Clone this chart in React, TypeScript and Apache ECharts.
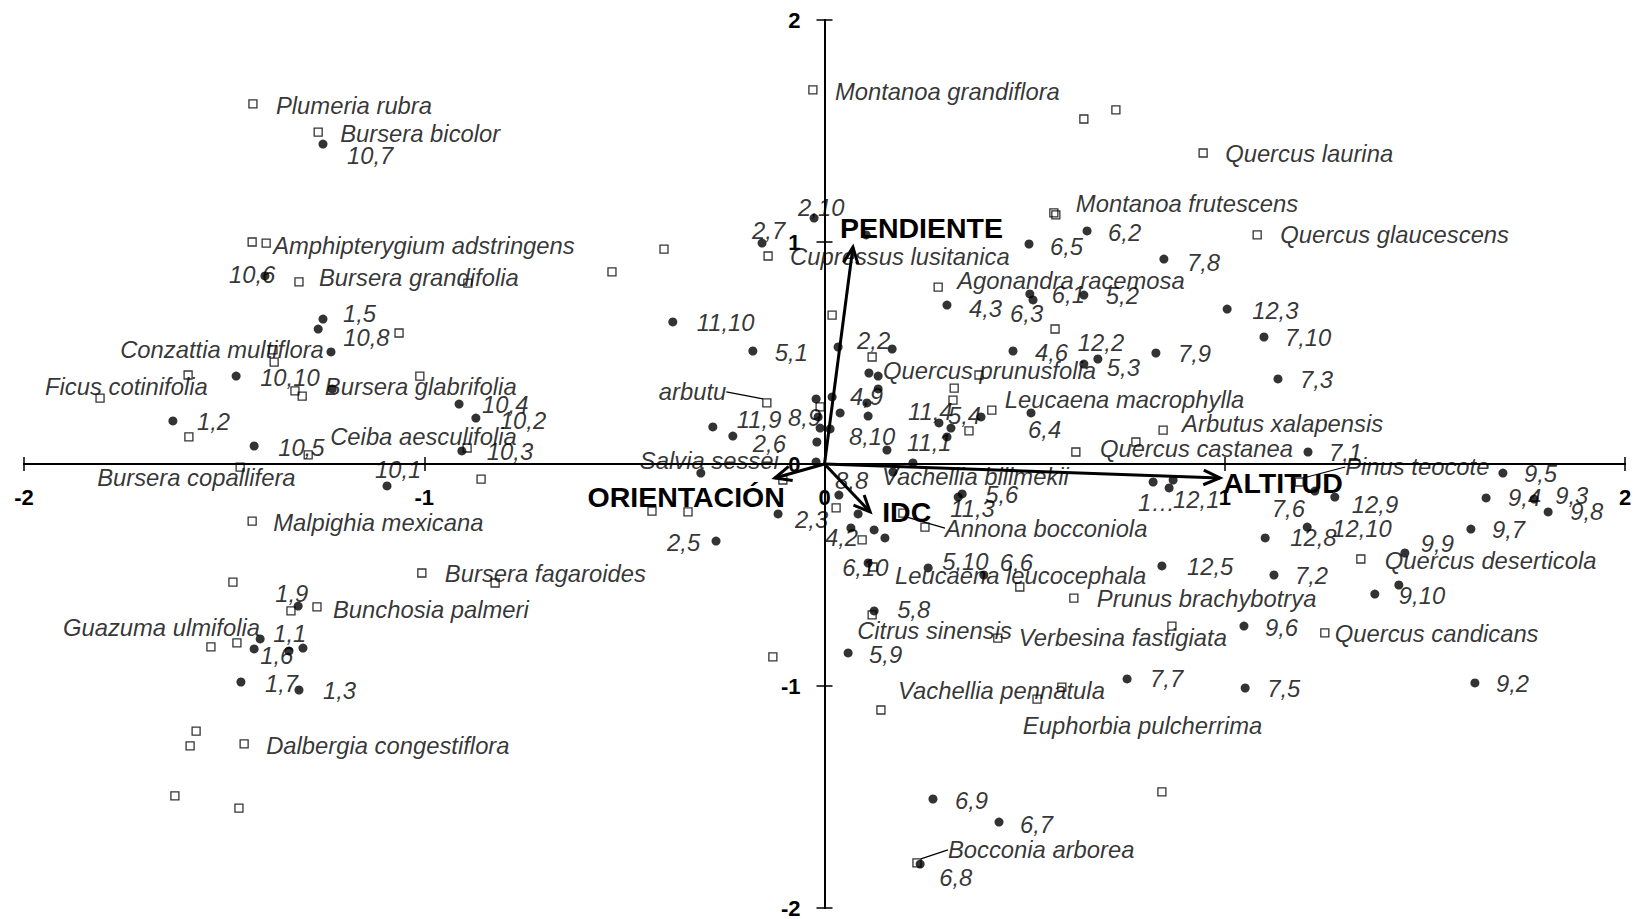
import React, { useEffect, useRef } from "react";
import * as echarts from "echarts";

// ---- Sites (filled dots) ----
const siteNames = [
  "10,7", "10,6", "2,10", "2,7", "", "6,5", "6,2", "7,8", "4,3", "6,3",
  "6,1", "5,2", "12,3", "1,5", "10,8", "", "10,10", "", "1,2", "10,5",
  "10,1", "1,9", "10,4", "10,2", "10,3", "11,10", "5,1", "11,9", "2,6", "8,9",
  "", "", "", "8,8", "", "2,3", "2,5", "2,2", "", "4,6",
  "5,3", "12,2", "7,9", "", "", "", "", "4,9", "", "",
  "", "11,4", "5,4", "", "6,4", "11,1", "8,10", "", "Vachellia bilimekii", "",
  "", "5,6", "11,3", "1…", "12,1", "", "4,2", "", "", "6,10",
  "5,10", "6,6", "12,5", "5,8", "7,10", "7,3", "7,1", "7,6", "12,9", "9,5",
  "9,4", "9,3", "9,8", "12,10", "12,8", "9,7", "9,9", "7,2", "9,10", "",
  "1,1", "1,6", "", "", "1,7", "1,3", "5,9", "7,7", "6,9", "6,7",
  "6,8", "9,6", "7,5", "9,2",
];
const siteX = [
  -1.253, -1.398, -0.026, -0.156, 0.104, 0.511, 0.656, 0.848, 0.306, 0.521,
  0.513, 0.648, 1.006, -1.253, -1.265, -1.233, -1.47, -1.23, -1.628, -1.425,
  -1.093, -1.315, -0.913, -0.871, -0.906, -0.379, -0.179, -0.279, -0.229, -0.016,
  -0.021, -0.011, -0.019, -0.021, -0.309, -0.116, -0.271, 0.034, 0.169, 0.471,
  0.648, 0.683, 0.828, 0.111, 0.134, 0.134, 0.019, 0.106, 0.039, 0.109,
  0.014, 0.286, 0.316, 0.391, 0.516, 0.306, 0.156, 0.221, 0.171, 0.036,
  0.084, 0.344, 0.334, 0.821, 0.861, 0.871, 0.066, 0.124, 0.151, 0.109,
  0.259, 0.398, 0.843, 0.124, 1.098, 1.133, 1.208, 1.225, 1.275, 1.695,
  1.653, 1.773, 1.808, 1.206, 1.101, 1.615, 1.45, 1.123, 1.375, 1.435,
  -1.41, -1.425, -1.338, -1.303, -1.458, -1.313, 0.059, 0.756, 0.271, 0.436,
  0.239, 1.048, 1.051, 1.625,
];
const siteY = [
  1.441, 0.847, 1.108, 0.995, 1.032, 0.991, 1.05, 0.923, 0.716, 0.739,
  0.766, 0.761, 0.698, 0.653, 0.608, 0.505, 0.396, 0.338, 0.194, 0.081,
  -0.099, -0.64, 0.27, 0.207, 0.059, 0.64, 0.509, 0.167, 0.126, 0.212,
  0.293, 0.162, 0.099, 0.009, -0.041, -0.225, -0.347, 0.527, 0.518, 0.509,
  0.45, 0.473, 0.5, 0.41, 0.396, 0.338, 0.302, 0.275, 0.23, 0.216,
  0.158, 0.185, 0.162, 0.212, 0.23, 0.122, 0.063, 0.005, -0.036, -0.14,
  -0.225, -0.135, -0.149, -0.081, -0.108, -0.072, -0.288, -0.297, -0.333, -0.446,
  -0.468, -0.5, -0.459, -0.662, 0.572, 0.383, 0.054, -0.122, -0.149, -0.041,
  -0.153, -0.158, -0.216, -0.284, -0.333, -0.293, -0.401, -0.5, -0.586, -0.545,
  -0.788, -0.833, -0.842, -0.829, -0.982, -1.018, -0.851, -0.968, -1.509, -1.613,
  -1.802, -0.73, -1.009, -0.986,
];
// label placement (pixels from the dot to the label's left/middle)
const siteLabelOffset: [number, number][] = [
  [24, 11], [-36, -1], [-16, -11], [-10, -13], [0, 0], [21, 3], [21, 2], [23, 3], [22, 3], [-23, 14],
  [22, 1], [22, 0], [25, 1], [20, -6], [25, 8], [0, 0], [24, 1], [0, 0], [24, 1], [24, 1],
  [-12, -16], [-23, -13], [23, 0], [24, 2], [25, 1], [24, 1], [22, 1], [24, -7], [20, 7], [-30, 1],
  [0, 0], [0, 0], [0, 0], [19, 18], [0, 0], [17, 6], [-49, 1], [19, -7], [0, 0], [22, 1],
  [23, 3], [-20, -16], [22, 0], [0, 0], [0, 0], [0, 0], [0, 0], [-17, -6], [0, 0], [0, 0],
  [0, 0], [-31, -11], [-3, -13], [0, 0], [-3, 17], [-40, 6], [-38, -14], [0, 0], [-11, 5], [0, 0],
  [0, 0], [23, 1], [-8, 11], [-15, 21], [4, 12], [0, 0], [-26, 10], [0, 0], [0, 0], [-26, 4],
  [14, -6], [16, -13], [25, 1], [23, -1], [21, 0], [22, 1], [21, 0], [-43, 17], [17, 7], [21, 0],
  [22, 0], [21, -4], [22, 0], [25, 1], [25, 0], [21, 0], [16, -10], [21, 0], [24, 1], [0, 0],
  [13, -5], [6, 7], [0, 0], [0, 0], [24, 1], [24, 1], [21, 2], [23, 0], [22, 2], [21, 2],
  [19, 13], [21, 1], [22, 1], [21, 1],
];

// ---- Species (open squares) ----
const speciesNames = [
  "Plumeria rubra", "Bursera bicolor", "", "Amphipterygium adstringens", "Bursera grandifolia",
  "Montanoa grandiflora", "Cupressus lusitanica", "", "", "",
  "", "", "Quercus laurina", "", "Montanoa frutescens",
  "Agonandra racemosa", "Quercus glaucescens", "", "", "",
  "", "Conzattia multiflora", "", "Ficus cotinifolia", "",
  "", "Bursera glabrifolia", "", "Ceiba aesculifolia", "Bursera copallifera",
  "Malpighia mexicana", "", "Bursera fagaroides", "", "",
  "Bunchosia palmeri", "", "", "arbutu", "",
  "Salvia sessei", "", "", "", "Quercus prunusfolia",
  "", "", "Leucaena macrophylla", "", "",
  "Arbutus xalapensis", "Quercus castanea", "Pinus teocote", "", "Annona bocconiola",
  "", "", "Leucaena leucocephala", "", "Prunus brachybotrya",
  "Citrus sinensis", "Verbesina fastigiata", "", "Quercus deserticola", "Quercus candicans",
  "Euphorbia pulcherrima", "Vachellia pennatula", "", "", "Bocconia arborea",
  "", "Guazuma ulmifolia", "", "", "",
  "Dalbergia congestiflora", "", "",
];
const speciesX = [
  -1.428, -1.265, -1.43, -1.395, -1.313,
  -0.029, -0.141, -0.401, -0.531, -0.891,
  0.648, 0.728, 0.946, 0.573, 0.578,
  0.284, 1.081, 0.576, 0.019, -1.063,
  -1.378, -1.375, -1.59, -1.81, -1.323,
  -1.305, -1.011, -1.588, -1.29, -1.46,
  -1.43, -1.478, -1.006, -0.823, -1.333,
  -1.268, -0.893, -0.858, -0.144, -0.011,
  -0.104, -0.431, -0.341, 0.119, 0.386,
  0.324, 0.321, 0.418, 0.361, 0.628,
  0.846, 0.778, 1.186, 0.029, 0.196,
  0.251, 0.094, 0.121, 0.488, 0.623,
  0.119, 0.433, 0.868, 1.34, 1.25,
  0.593, 0.531, 0.141, 0.843, 0.231,
  -0.129, -1.533, -1.468, -1.57, -1.585,
  -1.45, -1.623, -1.463,
];
const speciesY = [
  1.622, 1.495, 1.0, 0.995, 0.82,
  1.685, 0.937, 0.968, 0.865, 0.815,
  1.554, 1.595, 1.401, 1.131, 1.122,
  0.797, 1.032, 0.608, 0.671, 0.59,
  0.514, 0.459, 0.401, 0.297, 0.329,
  0.306, 0.396, 0.122, 0.041, -0.014,
  -0.257, -0.532, -0.491, -0.536, -0.662,
  -0.644, 0.072, -0.068, 0.275, 0.257,
  -0.072, -0.212, -0.216, 0.482, 0.401,
  0.342, 0.288, 0.243, 0.149, 0.054,
  0.153, 0.099, -0.081, -0.198, -0.221,
  -0.284, -0.342, -0.464, -0.554, -0.604,
  -0.68, -0.784, -0.73, -0.428, -0.761,
  -1.005, -1.059, -1.108, -1.477, -1.797,
  -0.869, -0.824, -0.806, -1.203, -1.27,
  -1.261, -1.495, -1.55,
];
const speciesLabelOffset: [number, number][] = [
  [23, 2], [22, 1], [0, 0], [7, 2], [20, -4],
  [22, 2], [22, 1], [0, 0], [0, 0], [0, 0],
  [0, 0], [0, 0], [22, 1], [0, 0], [20, -11],
  [19, -7], [23, 0], [0, 0], [0, 0], [0, 0],
  [0, 0], [-154, -13], [0, 0], [-55, -12], [0, 0],
  [0, 0], [-95, 10], [0, 0], [22, -18], [-143, 10],
  [21, 1], [0, 0], [23, 0], [0, 0], [0, 0],
  [16, 3], [0, 0], [0, 0], [-108, -11], [0, 0],
  [-143, -19], [0, 0], [0, 0], [0, 0], [-96, -4],
  [0, 0], [0, 0], [13, -11], [0, 0], [0, 0],
  [19, -7], [-36, 6], [46, -15], [0, 0], [42, 15],
  [0, 0], [0, 0], [22, 8], [0, 0], [23, 0],
  [-15, 16], [21, -1], [0, 0], [24, 1], [10, 1],
  [-39, 38], [-139, -9], [0, 0], [0, 0], [31, -13],
  [0, 0], [-148, -19], [0, 0], [0, 0], [0, 0],
  [22, 2], [0, 0], [0, 0],
];
const speciesWithLeader = ["arbutu", "Pinus teocote", "Annona bocconiola", "Bocconia arborea"];

// ---- Environmental vectors ----
const envNames = ["PENDIENTE", "ORIENTACIÓN", "IDC", "ALTITUD"];
const envX = [0.071, -0.124, 0.114, 0.988];
const envY = [0.977, -0.063, -0.216, -0.063];
const envLabelOffset: [number, number][] = [[-13, -19], [10, 19], [12, 0], [3, 5]];
const envLabelAlign = ["left", "right", "left", "left"];

const axisTicks = [-2, -1, 0, 1, 2];

const FONT = "'Liberation Sans', Arial, Helvetica, sans-serif";

// layout of the plotting area
const W = 1642;
const H = 919;
const GRID = { left: 24, right: 17, top: 20, bottom: 11 };

export default function App() {
  const ref = useRef<HTMLDivElement>(null);

  useEffect(() => {
    if (!ref.current) return;
    const chart = echarts.init(ref.current, undefined, { renderer: "svg" });

    const labelStyle = {
      show: true,
      position: "right",
      fontFamily: FONT,
      fontStyle: "italic",
      fontSize: 23.8,
      color: "#000",
      formatter: (p: any) => p.name,
    };

    const siteData = siteNames.map((n, i) => ({
      name: n,
      value: [siteX[i], siteY[i]],
      label: { show: n !== "" },
    }));
    const speciesData = speciesNames.map((n, i) => ({
      name: n,
      value: [speciesX[i], speciesY[i]],
      label: { show: n !== "" },
      labelLine: { show: speciesWithLeader.indexOf(n) >= 0 },
    }));

    const mkLayout = (offsets: [number, number][]) => (p: any) => {
      const o = offsets[p.dataIndex];
      if (!o) return {};
      return {
        x: p.rect.x + p.rect.width / 2 + o[0],
        y: p.rect.y + p.rect.height / 2 + o[1],
        align: "left",
        verticalAlign: "middle",
      };
    };

    const axisMin = axisTicks[0];
    const axisMax = axisTicks[axisTicks.length - 1];
    const gridW = W - GRID.left - GRID.right;
    const gridH = H - GRID.top - GRID.bottom;
    // move the axes from the grid edges to the origin (value 0)
    const xOff = -gridH * (axisMax / (axisMax - axisMin));
    const yOff = -gridW * (-axisMin / (axisMax - axisMin));

    const base = {
      type: "value",
      min: axisMin,
      max: axisMax,
      interval: 1,
      splitLine: { show: false },
    };
    const lineStyle = { color: "#000", width: 2 };
    const tickStyle = { color: "#000", width: 1.5 };
    const tickLabel = {
      fontFamily: FONT,
      fontWeight: "bold",
      fontSize: 22,
      color: "#000",
    };

    chart.setOption({
      animation: false,
      backgroundColor: "#fff",
      grid: { ...GRID, containLabel: false, outerBoundsMode: "none" },
      xAxis: [
        {
          ...base,
          position: "bottom",
          offset: xOff,
          axisLine: { onZero: false, lineStyle },
          axisTick: { show: true, length: 7, lineStyle: tickStyle },
          axisLabel: { ...tickLabel, margin: 22 },
        },
        {
          ...base,
          position: "top",
          offset: xOff,
          axisLine: { onZero: false, lineStyle },
          axisTick: { show: true, length: 7, lineStyle: tickStyle },
          axisLabel: { show: false },
        },
      ],
      yAxis: [
        {
          ...base,
          position: "left",
          offset: yOff,
          axisLine: { onZero: false, lineStyle },
          axisTick: { show: true, length: 8, lineStyle: tickStyle },
          axisLabel: { ...tickLabel, margin: 24 },
        },
        {
          ...base,
          position: "right",
          offset: yOff,
          axisLine: { onZero: false, lineStyle },
          axisTick: { show: true, length: 8, lineStyle: tickStyle },
          axisLabel: { show: false },
        },
      ],
      series: [
        {
          type: "scatter",
          name: "Especies",
          xAxisIndex: 0,
          yAxisIndex: 0,
          symbol: "rect",
          symbolSize: 8,
          itemStyle: { color: "rgba(255,255,255,0)", borderColor: "#000", borderWidth: 1.3 },
          label: labelStyle,
          labelLine: { show: false, lineStyle: { color: "#000", width: 1.2 } },
          labelLayout: mkLayout(speciesLabelOffset),
          data: speciesData,
          z: 2,
        },
        {
          type: "scatter",
          name: "Sitios",
          xAxisIndex: 0,
          yAxisIndex: 0,
          symbol: "circle",
          symbolSize: 9,
          itemStyle: { color: "#000" },
          label: labelStyle,
          labelLayout: mkLayout(siteLabelOffset),
          data: siteData,
          z: 3,
        },
        {
          type: "custom",
          name: "Variables",
          xAxisIndex: 0,
          yAxisIndex: 0,
          z: 4,
          data: envX.map((x, i) => [x, envY[i]]),
          renderItem: (params: any, api: any) => {
            const i = params.dataIndex;
            const o = api.coord([0, 0]);
            const t = api.coord([api.value(0), api.value(1)]);
            const ang = Math.atan2(t[1] - o[1], t[0] - o[0]);
            const L = 18;
            const a = 0.42;
            const p1 = [t[0] - L * Math.cos(ang - a), t[1] - L * Math.sin(ang - a)];
            const p2 = [t[0] - L * Math.cos(ang + a), t[1] - L * Math.sin(ang + a)];
            const off = envLabelOffset[i];
            return {
              type: "group",
              children: [
                {
                  type: "line",
                  shape: { x1: o[0], y1: o[1], x2: t[0], y2: t[1] },
                  style: { stroke: "#000", lineWidth: 3 },
                },
                {
                  type: "polyline",
                  shape: { points: [p1, t, p2] },
                  style: { stroke: "#000", lineWidth: 3, fill: "none" },
                },
                {
                  type: "text",
                  x: t[0] + off[0],
                  y: t[1] + off[1],
                  style: {
                    text: envNames[i],
                    fill: "#000",
                    fontFamily: FONT,
                    fontWeight: "bold",
                    fontSize: 28.5,
                    align: envLabelAlign[i],
                    verticalAlign: "middle",
                  },
                },
              ],
            };
          },
        },
      ],
    });

    return () => chart.dispose();
  }, []);

  return (
    <div
      ref={ref}
      style={{ position: "fixed", left: 0, top: 0, width: W, height: H, background: "#fff" }}
    />
  );
}
